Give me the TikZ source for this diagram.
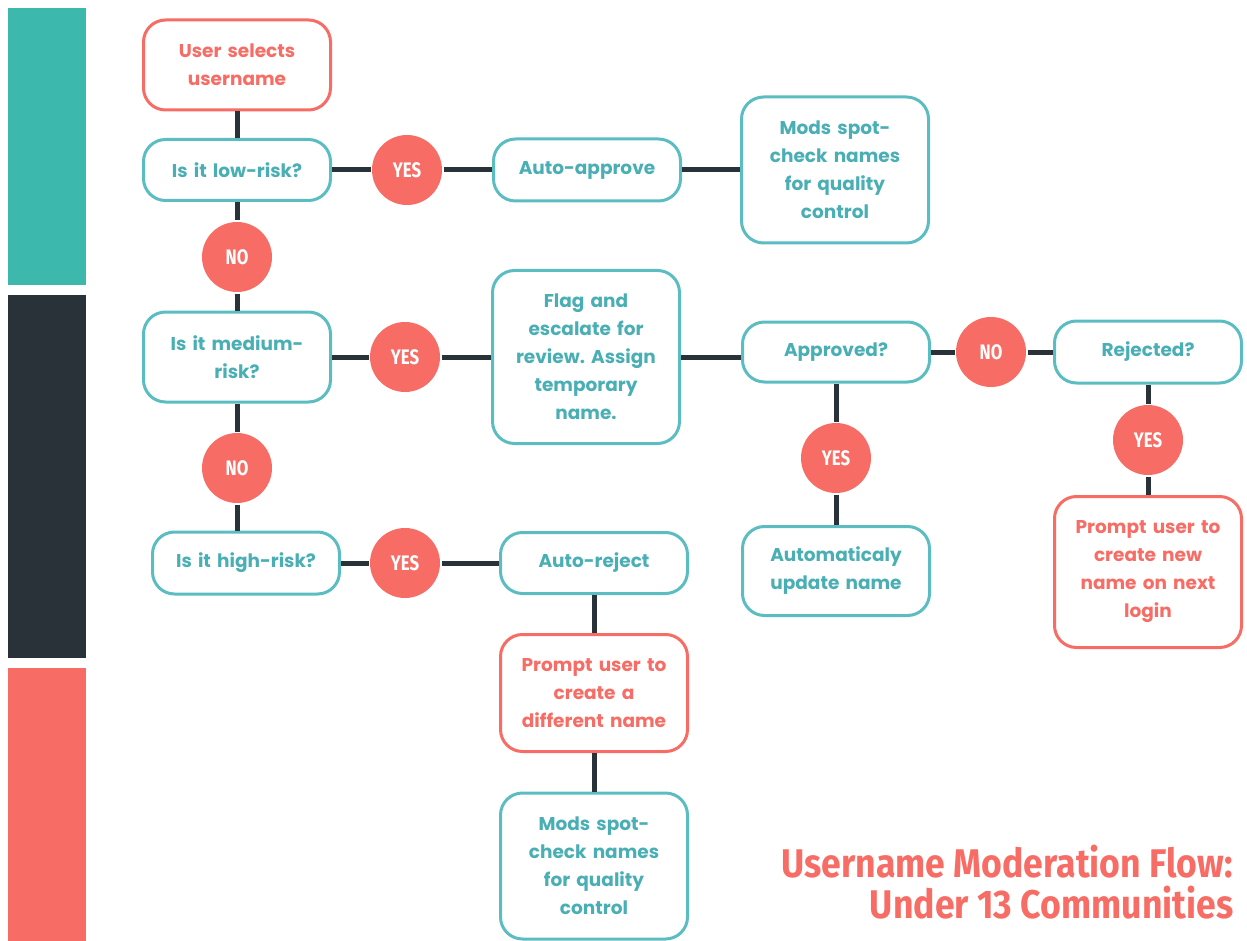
\documentclass[tikz,border=0pt]{standalone}
\usepackage{graphicx}
\usepackage{fontspec}
\setmainfont{Poppins}
\newfontfamily\condfont{Fira Sans}
\definecolor{coral}{HTML}{F76C64}
\definecolor{barteal}{HTML}{3DB8AC}
\definecolor{boxteal}{HTML}{5BBDC2}
\definecolor{textteal}{HTML}{4AAFB5}
\definecolor{darkline}{HTML}{283238}
\frenchspacing

\begin{document}
\begin{tikzpicture}[x=1pt, y=-1pt, line width=3pt]
    \tikzstyle{box}=[draw=boxteal, fill=white, rounded corners=22pt, minimum width=187pt, text width=170pt, align=center, inner sep=0pt, text=textteal, font=\fontsize{18.5}{28}\selectfont\bfseries]
    \tikzstyle{redbox}=[box, draw=coral, text=coral]
    \tikzstyle{answer}=[circle, fill=coral, minimum size=70pt, inner sep=0pt, text=white, font=\condfont\fontsize{21}{21}\selectfont\bfseries]
    \tikzstyle{link}=[draw=darkline, line width=5pt]
    \useasboundingbox (0,0) rectangle (1247,941);

    % Colour bars at the left
    \fill[barteal] (8,8) rectangle (86,285);
    \fill[darkline] (8,295) rectangle (86,658);
    \fill[coral] (8,668) rectangle (86,941);

    % Left column: risk checks
    \node[redbox, minimum height=90pt] (user) at (237,65) {User selects\\username};
    \node[box, minimum height=61pt] (low) at (237,170) {Is it low-risk?};
    \node[answer] (no1) at (237,257) {\scalebox{0.8}[1]{NO}};
    \node[box, minimum height=90pt] (medium) at (237,357) {Is it medium-\\risk?};
    \node[answer] (no2) at (237,468) {\scalebox{0.8}[1]{NO}};
    \node[box, minimum height=62pt] (high) at (246,563) {Is it high-risk?};

    % Low-risk branch
    \node[answer] (yes1) at (407,170) {\scalebox{0.8}[1]{YES}};
    \node[box, minimum height=62pt] (approve) at (587,170) {Auto-approve};
    \node[box, minimum height=146pt] (spotA) at (835,170) {Mods spot-\\check names\\for quality\\control};

    % Medium-risk branch
    \node[answer] (yes2) at (405,357) {\scalebox{0.8}[1]{YES}};
    \node[box, minimum height=173pt] (flag) at (586,357) {Flag and\\escalate for\\review. Assign\\temporary\\name.};
    \node[box, minimum height=60pt] (approved) at (836,352) {Approved?};
    \node[answer] (no3) at (991,352) {\scalebox{0.8}[1]{NO}};
    \node[box, minimum height=62pt] (rejected) at (1148,352) {Rejected?};
    \node[answer] (yes3) at (836,458) {\scalebox{0.8}[1]{YES}};
    \node[box, minimum height=89pt] (update) at (836,571) {Automaticaly\\update name};
    \node[answer] (yes4) at (1148,440) {\scalebox{0.8}[1]{YES}};
    \node[redbox, minimum height=151pt] (newname) at (1148,572) {Prompt user to\\create new\\name on next\\login};

    % High-risk branch
    \node[answer] (yes5) at (405,563) {\scalebox{0.8}[1]{YES}};
    \node[box, minimum height=61pt] (reject) at (594,563) {Auto-reject};
    \node[redbox, minimum height=117pt] (diffname) at (594,693) {Prompt user to\\create a\\different name};
    \node[box, minimum height=146pt] (spotB) at (594,866) {Mods spot-\\check names\\for quality\\control};

    % Title
    \node[anchor=east, align=right, text=coral, font=\condfont\fontsize{40}{41}\selectfont\bfseries] (title) at (1238,882)
      {\scalebox{0.89}[1]{Username Moderation Flow:}\\\scalebox{0.89}[1]{Under 13 Communities}};

    % Connectors
    \path[link]
      (user) edge (low)
      (low) edge (no1)
      (no1) edge (medium)
      (medium) edge (no2)
      (no2) edge (no2 |- high.north)
      (low) edge (yes1)
      (yes1) edge (approve)
      (approve) edge (spotA)
      (medium) edge (yes2)
      (yes2) edge (flag)
      (flag.east) edge (flag.east -| approved.west)
      (approved) edge (no3)
      (no3) edge (rejected)
      (approved) edge (yes3)
      (yes3) edge (update)
      (rejected) edge (yes4)
      (yes4) edge (newname)
      (high) edge (yes5)
      (yes5) edge (reject)
      (reject) edge (diffname)
      (diffname) edge (spotB);
\end{tikzpicture}
\end{document}
